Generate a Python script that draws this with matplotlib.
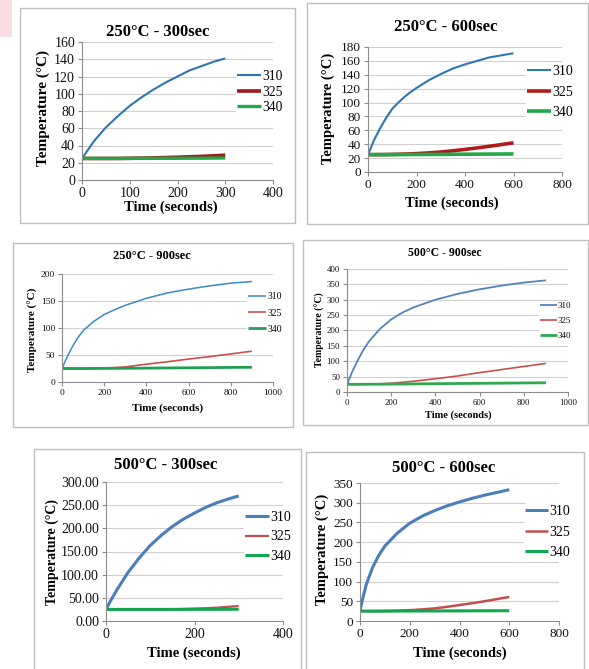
import matplotlib.pyplot as plt
from matplotlib.patches import Rectangle
from matplotlib.ticker import FormatStrFormatter

plt.rcParams['font.family'] = ['Liberation Serif', 'DejaVu Serif']

# series labels (thermocouple positions)
labels = ['310', '325', '340']

# 250C - 300 sec
t1 = [0, 25, 50, 75, 100, 125, 150, 175, 200, 225, 250, 275, 300]
p1_310 = [25, 45, 61, 74, 86, 96, 105, 113, 120, 127, 132, 137, 141]
p1_325 = [25, 25, 25, 25, 25.2, 25.4, 25.6, 26, 26.4, 26.9, 27.4, 28, 28.8]
p1_340 = [25, 25, 25, 25, 25, 25.1, 25.1, 25.2, 25.2, 25.3, 25.3, 25.4, 25.5]

# 250C - 600 sec
t2 = [0, 25, 50, 75, 100, 125, 150, 175, 200, 250, 300, 350, 400, 450, 500, 550, 600]
p2_310 = [25, 46, 63, 78, 91, 100, 108, 115, 121, 132, 141, 149, 155, 160, 165, 168, 171]
p2_325 = [25, 25, 25, 25.1, 25.3, 25.5, 25.8, 26.1, 26.5, 27.5, 28.8, 30.5, 32.5, 34.7, 37, 39.5, 42]
p2_340 = [25, 25, 25, 25, 25.1, 25.1, 25.1, 25.2, 25.2, 25.3, 25.4, 25.5, 25.6, 25.7, 25.8, 25.9, 26]

# 250C - 900 sec
t3 = [0, 25, 50, 75, 100, 150, 200, 250, 300, 400, 500, 600, 700, 800, 900]
p3_310 = [25, 47, 66, 82, 95, 112, 125, 134, 142, 155, 165, 172, 178, 183, 186]
p3_325 = [25, 25, 25, 25, 25, 25, 25.8, 26.8, 28, 33, 37.5, 42.5, 47, 52, 57]
p3_340 = [25, 25, 25, 25, 25, 25.1, 25.2, 25.3, 25.4, 25.7, 26, 26.3, 26.6, 27, 27.3]

# 500C - 900 sec
t4 = [0, 25, 50, 75, 100, 150, 200, 250, 300, 400, 500, 600, 700, 800, 900]
p4_310 = [25, 68, 105, 138, 165, 206, 236, 258, 275, 300, 319, 334, 346, 356, 363]
p4_325 = [25, 25, 25, 25.2, 25.5, 26.5, 28.5, 31.5, 35, 43, 52, 63, 73, 83, 93]
p4_340 = [25, 25, 25, 25.1, 25.2, 25.4, 25.7, 26, 26.3, 27, 27.6, 28.2, 28.8, 29.4, 30]

# 500C - 300 sec
t5 = [0, 10, 25, 50, 75, 100, 125, 150, 175, 200, 225, 250, 275, 300]
p5_310 = [25, 43, 68, 105, 136, 163, 185, 204, 220, 233, 245, 255, 263, 270]
p5_325 = [25, 25, 25, 25, 25, 25, 25.2, 25.5, 26, 26.7, 27.6, 28.8, 30.5, 32.5]
p5_340 = [25, 25, 25, 25, 25, 25, 25, 25.1, 25.1, 25.2, 25.2, 25.3, 25.3, 25.4]

# 500C - 600 sec
t6 = [0, 10, 25, 50, 75, 100, 150, 200, 250, 300, 350, 400, 450, 500, 550, 600]
p6_310 = [25, 55, 92, 135, 166, 190, 223, 248, 266, 280, 292, 302, 311, 319, 326, 333]
p6_325 = [25, 25, 25, 25, 25, 25.3, 26, 27.5, 29.5, 32, 36, 40.5, 45, 50, 55.5, 61]
p6_340 = [25, 25, 25, 25, 25, 25.1, 25.2, 25.3, 25.4, 25.5, 25.6, 25.7, 25.8, 25.9, 26, 26]

W, H = 589, 669
fig = plt.figure(figsize=(W / 100, H / 100), dpi=100)


def fx(x):
    return x / W


def fy(y):
    return 1 - y / H


panels = [
    dict(title='250°C - 300sec', t=t1, ys=[p1_310, p1_325, p1_340],
         box=(20, 8, 295, 223), ax=(82, 42, 273, 180),
         xlim=400, xstep=100, ylim=160, ystep=20, fmt=None,
         colors=['#2E75B6', '#A31A1A', '#22A84A'], lws=[1.5, 2.6, 2.4],
         title_pos=(158, 32, 12), xl_pos=(171, 207, 10.5), yl_pos=(43, 108, 11),
         tick_fs=10, leg=(236, 92, 9.8, 1.7, 0.2)),
    dict(title='250°C - 600sec', t=t2, ys=[p2_310, p2_325, p2_340],
         box=(307, 3, 588, 224), ax=(368, 47, 562, 172),
         xlim=800, xstep=200, ylim=180, ystep=20, fmt=None,
         colors=['#2E75B6', '#B01C1C', '#22A84A'], lws=[1.5, 2.6, 2.6],
         title_pos=(446, 27, 12), xl_pos=(452, 203, 10.5), yl_pos=(328, 108, 10.5),
         tick_fs=9.5, leg=(526, 92, 10, 1.7, 0.55)),
    dict(title='250°C - 900sec', t=t3, ys=[p3_310, p3_325, p3_340],
         box=(13, 243, 293, 427), ax=(62, 274, 273, 382),
         xlim=1000, xstep=200, ylim=200, ystep=50, fmt=None,
         colors=['#3A8AC4', '#C8514D', '#1FA050'], lws=[1.1, 1.2, 2.0],
         title_pos=(152, 256, 9), xl_pos=(168, 408, 8), yl_pos=(33, 330, 8),
         tick_fs=6.8, leg=(247, 313, 7, 1.9, 0.75)),
    dict(title='500°C - 900sec', t=t4, ys=[p4_310, p4_325, p4_340],
         box=(303, 240, 588, 425), ax=(347, 269, 568, 392),
         xlim=1000, xstep=200, ylim=400, ystep=50, fmt=None,
         colors=['#5383BD', '#C8514D', '#2FA84F'], lws=[1.3, 1.2, 2.0],
         title_pos=(445, 253, 8.5), xl_pos=(458, 415, 7.5), yl_pos=(320, 330, 7),
         tick_fs=6.3, leg=(539, 321, 6.5, 1.9, 0.75)),
    dict(title='500°C - 300sec', t=t5, ys=[p5_310, p5_325, p5_340],
         box=(34, 449, 301, 672), ax=(106, 482, 283, 621),
         xlim=400, xstep=200, ylim=300, ystep=50, fmt='%.2f',
         colors=['#4A7EBB', '#C0504D', '#12A650'], lws=[2.2, 1.6, 2.2],
         title_pos=(166, 465, 12), xl_pos=(194, 653, 10.5), yl_pos=(52, 552, 10),
         tick_fs=10, leg=(244, 537, 10, 1.7, 0.45)),
    dict(title='500°C - 600sec', t=t6, ys=[p6_310, p6_325, p6_340],
         box=(306, 452, 584, 672), ax=(360, 483, 559, 621),
         xlim=800, xstep=200, ylim=350, ystep=50, fmt=None,
         colors=['#4A7EBB', '#C0504D', '#12A650'], lws=[2.2, 1.8, 2.2],
         title_pos=(444, 468, 12), xl_pos=(460, 653, 10.5), yl_pos=(322, 549, 10.5),
         tick_fs=9.5, leg=(524, 532, 10, 1.6, 0.55)),
]

for p in panels:
    x0, y0, x1, y1 = p['box']
    fig.add_artist(Rectangle((fx(x0), fy(y1)), (x1 - x0) / W, (y1 - y0) / H,
                             transform=fig.transFigure, fill=False,
                             ec='#BFBFBF', lw=1.0))

    a0, a1, a2, a3 = p['ax']
    ax = fig.add_axes([fx(a0), fy(a3), (a2 - a0) / W, (a3 - a1) / H])
    for ys, lab, c, lw in zip(p['ys'], labels, p['colors'], p['lws']):
        ax.plot(p['t'], ys, color=c, lw=lw, label=lab,
                solid_capstyle='butt', solid_joinstyle='round')

    ax.set_xlim(0, p['xlim'])
    ax.set_ylim(0, p['ylim'])
    ax.set_xticks(range(0, p['xlim'] + 1, p['xstep']))
    ax.set_yticks(range(0, p['ylim'] + 1, p['ystep']))
    if p['fmt']:
        ax.yaxis.set_major_formatter(FormatStrFormatter(p['fmt']))
    ax.yaxis.grid(True, color='#D0D0D0', lw=0.8)
    ax.set_axisbelow(True)
    for s in ['top', 'right']:
        ax.spines[s].set_visible(False)
    for s in ['left', 'bottom']:
        ax.spines[s].set_color('#8C8C8C')
        ax.spines[s].set_linewidth(0.8)
    ax.tick_params(direction='out', length=3, width=0.8, color='#8C8C8C',
                   labelsize=p['tick_fs'], labelcolor='#111111', pad=2)

    lx, ly, lfs, hl, ls = p['leg']
    ax.legend(loc='center left', bbox_to_anchor=(fx(lx), fy(ly)),
              bbox_transform=fig.transFigure, fontsize=lfs, frameon=True,
              facecolor='white', edgecolor='none', framealpha=1,
              borderpad=0.1, borderaxespad=0, handlelength=hl,
              handletextpad=0.1, labelspacing=ls)

    tx, ty, tfs = p['title_pos']
    fig.text(fx(tx), fy(ty), p['title'], ha='center', va='center',
             fontsize=tfs, fontweight='bold')
    tx, ty, tfs = p['xl_pos']
    fig.text(fx(tx), fy(ty), 'Time (seconds)', ha='center', va='center',
             fontsize=tfs, fontweight='bold')
    tx, ty, tfs = p['yl_pos']
    fig.text(fx(tx), fy(ty), 'Temperature (°C)', ha='center', va='center',
             fontsize=tfs, fontweight='bold', rotation=90)

# pink scrap in the corner of the scan
fig.add_artist(Rectangle((0, fy(37)), 12 / W, 37 / H, transform=fig.transFigure,
                         fc='#FADDE3', ec='none'))

fig.savefig('out.png', dpi=100)
